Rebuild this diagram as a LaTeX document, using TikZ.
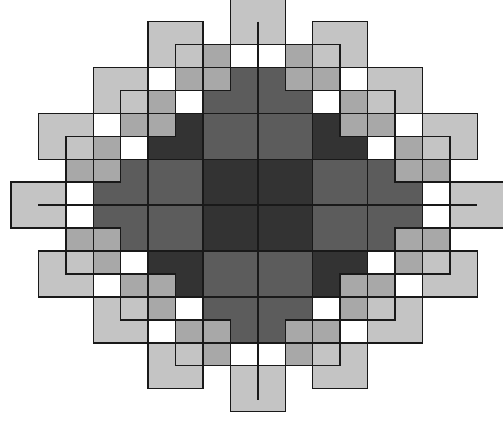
\documentclass[tikz,border=0pt]{standalone}
\usepackage{tikz}

\definecolor{pixlight}{gray}{0.77}
\definecolor{pixmid}{gray}{0.66}
\definecolor{pixdark}{gray}{0.36}
\definecolor{pixdeep}{gray}{0.2}
\tikzset{sqline/.style={line width=1.5pt,black!90}}

\begin{document}
\begin{tikzpicture}[x=27.43pt,y=-22.93pt]
    \useasboundingbox (-0.401,0.052) rectangle (17.937,18.37);
    % each corner (a,b) is used four times, mirrored about 9
    \foreach \a/\b in {7/3,7/5,3/7,5/7}
        \foreach \p/\q in {0/0,1/0,0/1,1/1}
            \fill[pixdark] ({\a+\p*(16-2*\a)},{\b+\q*(16-2*\b)}) rectangle ++(2,2);
    \foreach \a/\b in {5/5,7/7}
        \foreach \p/\q in {0/0,1/0,0/1,1/1}
            \fill[pixdeep] ({\a+\p*(16-2*\a)},{\b+\q*(16-2*\b)}) rectangle ++(2,2);
    \foreach \a/\b in {6/2,4/4,2/6}
        \foreach \p/\q in {0/0,1/0,0/1,1/1}
            \fill[pixmid] ({\a+\p*(16-2*\a)},{\b+\q*(16-2*\b)}) rectangle ++(2,2);
    \foreach \a/\b in {5/1,3/3,1/5,8/0,0/8}
        \foreach \p/\q in {0/0,1/0,0/1,1/1}
            \fill[pixlight] ({\a+\p*(16-2*\a)},{\b+\q*(16-2*\b)}) rectangle ++(2,2);
    % outlines on top
    \foreach \a/\b in {7/3,7/5,3/7,5/7,5/5,7/7,6/2,4/4,2/6,5/1,3/3,1/5,8/0,0/8}
        \foreach \p/\q in {0/0,1/0,0/1,1/1}
            \draw[sqline] ({\a+\p*(16-2*\a)},{\b+\q*(16-2*\b)}) rectangle ++(2,2);
    \draw[sqline] (9,1) -- (9,17.5);
    \draw[sqline] (1,9) -- (17,9);
\end{tikzpicture}
\end{document}
